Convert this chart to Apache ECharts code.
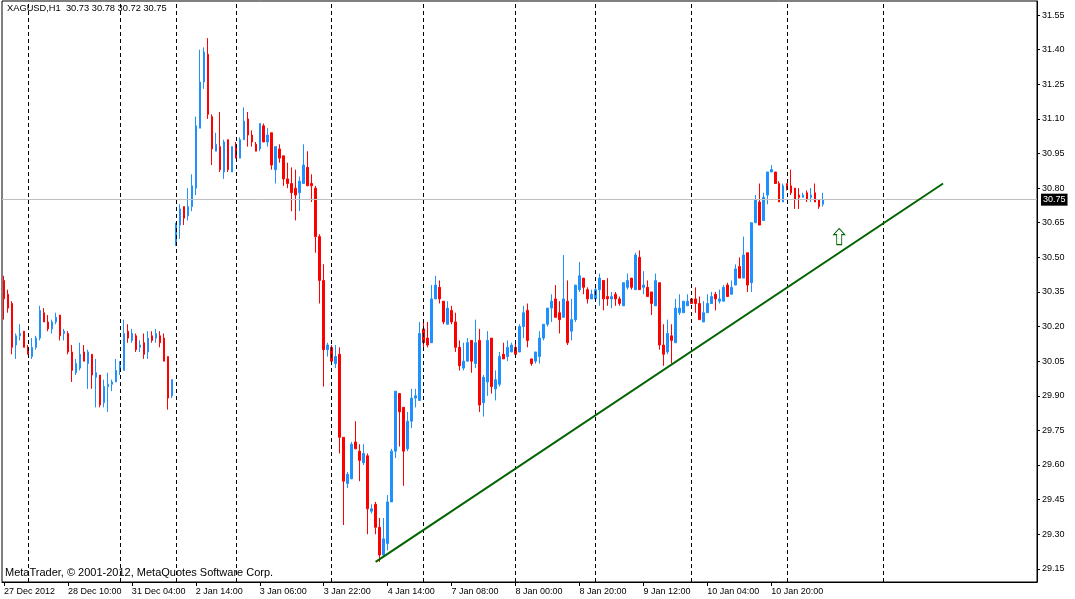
<!DOCTYPE html>
<html lang="en">
<head>
<meta charset="UTF-8">
<title>XAGUSD,H1</title>
<style>
html, body { margin: 0; padding: 0; background: #fff; }
#main { width: 1075px; height: 599px; }
</style>
</head>
<body>
<div id="main"></div>

<script src="https://cdn.jsdelivr.net/npm/echarts@6.0.0/dist/echarts.min.js"></script>
<script>
// hourly bars, each row: [open, close, low, high]
var ohlc = [
    [30.40,30.32,30.23,30.42],[30.34,30.28,30.26,30.36],[30.30,30.11,30.08,30.31],[30.12,30.16,30.06,30.17],
    [30.16,30.17,30.14,30.21],[30.18,30.11,30.11,30.18],[30.11,30.08,30.08,30.12],[30.07,30.11,30.06,30.15],
    [30.11,30.15,30.10,30.16],[30.15,30.27,30.14,30.29],[30.26,30.22,30.22,30.28],[30.22,30.19,30.18,30.25],
    [30.19,30.22,30.17,30.23],[30.22,30.24,30.21,30.26],[30.25,30.16,30.14,30.25],[30.17,30.18,30.14,30.19],
    [30.17,30.09,30.08,30.18],[30.09,30.01,29.96,30.12],[30.00,30.04,29.99,30.06],[30.02,30.08,30.01,30.13],
    [30.09,30.05,30.05,30.12],[30.04,30.09,29.93,30.10],[30.08,29.99,29.93,30.08],[29.98,30.00,29.85,30.06],
    [29.99,29.86,29.85,29.99],[29.87,29.94,29.85,29.97],[29.94,29.95,29.83,30.00],[29.95,29.96,29.92,29.97],
    [29.96,30.01,29.96,30.06],[30.01,30.03,29.99,30.05],[30.01,30.17,30.01,30.23],[30.18,30.15,30.13,30.21],
    [30.14,30.17,30.13,30.19],[30.16,30.10,30.09,30.17],[30.11,30.12,30.09,30.14],[30.13,30.08,30.06,30.17],
    [30.09,30.15,30.06,30.18],[30.16,30.14,30.13,30.18],[30.15,30.17,30.13,30.19],[30.16,30.13,30.11,30.18],
    [30.15,30.05,30.05,30.17],[30.07,29.89,29.84,30.07],[29.90,29.97,29.89,29.97],[30.56,30.64,30.55,30.65],
    [30.64,30.71,30.58,30.73],[30.72,30.67,30.64,30.72],[30.68,30.72,30.66,30.80],[30.72,30.81,30.70,30.86],
    [30.80,31.07,30.77,31.11],[31.06,31.26,31.06,31.40],[31.26,31.39,31.23,31.41],[31.38,31.12,31.10,31.45],
    [31.11,30.97,30.90,31.12],[30.96,30.99,30.96,31.04],[30.98,30.88,30.87,31.13],[30.87,31.00,30.84,31.01],
    [31.01,30.88,30.87,31.01],[30.87,30.98,30.87,30.98],[30.99,30.93,30.93,31.00],[30.93,31.01,30.93,31.02],
    [31.01,31.09,31.01,31.15],[31.10,31.03,30.98,31.13],[31.03,31.00,30.98,31.05],[30.99,30.96,30.96,31.00],
    [30.97,31.08,30.96,31.08],[31.07,31.00,31.00,31.08],[31.00,31.03,30.98,31.06],[31.04,30.90,30.88,31.04],
    [30.88,30.98,30.82,30.98],[30.97,30.93,30.91,30.99],[30.94,30.84,30.81,30.94],[30.84,30.82,30.80,30.91],
    [30.82,30.78,30.70,30.89],[30.80,30.77,30.66,30.88],[30.78,30.83,30.70,30.85],[30.82,30.90,30.82,30.99],
    [30.89,30.81,30.81,30.96],[30.82,30.81,30.74,30.86],[30.80,30.59,30.52,30.81],[30.59,30.40,30.30,30.60],
    [30.40,30.10,29.94,30.47],[30.10,30.12,30.07,30.13],[30.11,30.05,30.05,30.12],[30.04,30.07,30.02,30.12],
    [30.08,29.72,29.65,30.11],[29.72,29.53,29.34,29.72],[29.52,29.56,29.50,29.57],[29.54,29.69,29.54,29.70],
    [29.70,29.67,29.67,29.79],[29.66,29.62,29.53,29.69],[29.61,29.65,29.60,29.69],[29.64,29.41,29.30,29.65],
    [29.40,29.41,29.39,29.43],[29.43,29.33,29.30,29.44],[29.33,29.21,29.18,29.37],[29.21,29.28,29.20,29.37],
    [29.26,29.44,29.23,29.47],[29.44,29.66,29.44,29.67],[29.66,29.92,29.63,29.92],[29.91,29.83,29.68,29.91],
    [29.85,29.66,29.51,29.85],[29.67,29.79,29.66,29.83],[29.79,29.89,29.76,29.93],[29.89,29.90,29.85,29.93],
    [29.88,30.17,29.88,30.22],[30.19,30.13,30.10,30.22],[30.15,30.12,30.11,30.22],[30.13,30.32,30.13,30.38],
    [30.32,30.38,30.32,30.42],[30.37,30.32,30.30,30.40],[30.31,30.22,30.21,30.31],[30.21,30.28,30.21,30.31],
    [30.27,30.22,30.21,30.29],[30.22,30.11,30.09,30.26],[30.11,30.03,30.01,30.14],[30.02,30.05,30.01,30.13],
    [30.05,30.13,30.05,30.15],[30.14,30.05,30.00,30.14],[30.04,30.13,30.02,30.23],[30.14,29.86,29.83,30.19],
    [29.87,29.98,29.81,29.99],[29.96,30.14,29.90,30.18],[30.15,29.94,29.91,30.15],[29.93,29.97,29.88,30.01],
    [29.95,30.07,29.94,30.09],[30.08,30.06,30.06,30.13],[30.07,30.11,30.05,30.14],[30.09,30.12,30.09,30.13],
    [30.11,30.08,30.08,30.13],[30.09,30.20,30.09,30.21],[30.20,30.26,30.15,30.29],[30.27,30.14,30.11,30.30],
    [30.06,30.04,30.03,30.06],[30.05,30.09,30.04,30.09],[30.07,30.15,30.04,30.18],[30.15,30.21,30.14,30.21],
    [30.21,30.28,30.20,30.28],[30.28,30.31,30.22,30.34],[30.32,30.24,30.24,30.38],[30.26,30.23,30.17,30.31],
    [30.24,30.32,30.24,30.51],[30.31,30.13,30.12,30.40],[30.18,30.23,30.14,30.32],[30.23,30.38,30.22,30.38],
    [30.36,30.42,30.35,30.48],[30.41,30.37,30.34,30.41],[30.36,30.32,30.30,30.37],[30.32,30.34,30.32,30.36],
    [30.32,30.36,30.32,30.37],[30.36,30.41,30.29,30.43],[30.40,30.32,30.27,30.40],[30.33,30.32,30.29,30.41],
    [30.32,30.33,30.28,30.35],[30.34,30.32,30.29,30.35],[30.32,30.30,30.29,30.33],[30.29,30.39,30.29,30.39],
    [30.37,30.40,30.36,30.43],[30.41,30.37,30.36,30.41],[30.36,30.51,30.36,30.52],[30.50,30.36,30.36,30.53],
    [30.37,30.38,30.34,30.44],[30.37,30.33,30.33,30.40],[30.35,30.30,30.25,30.35],[30.29,30.40,30.29,30.43],
    [30.39,30.12,30.10,30.39],[30.12,30.08,30.03,30.21],[30.09,30.17,30.08,30.23],[30.16,30.14,30.04,30.21],
    [30.13,30.28,30.13,30.32],[30.26,30.28,30.25,30.34],[30.26,30.31,30.26,30.31],[30.29,30.31,30.29,30.34],
    [30.32,30.30,30.30,30.32],[30.32,30.30,30.26,30.37],[30.30,30.23,30.23,30.33],[30.22,30.26,30.22,30.31],
    [30.26,30.30,30.26,30.34],[30.30,30.33,30.30,30.35],[30.34,30.32,30.27,30.35],[30.31,30.32,30.30,30.36],
    [30.31,30.37,30.31,30.38],[30.38,30.33,30.33,30.39],[30.34,30.37,30.34,30.40],[30.38,30.45,30.38,30.47],
    [30.46,30.41,30.41,30.50],[30.41,30.51,30.41,30.59],[30.52,30.38,30.35,30.52],[30.39,30.65,30.35,30.65],
    [30.65,30.75,30.65,30.77],[30.74,30.64,30.64,30.82],[30.66,30.76,30.66,30.78],[30.77,30.87,30.73,30.87],
    [30.87,30.88,30.87,30.90],[30.87,30.82,30.82,30.87],[30.82,30.74,30.74,30.83],[30.74,30.81,30.74,30.82],
    [30.82,30.80,30.79,30.82],[30.81,30.78,30.77,30.88],[30.80,30.75,30.71,30.80],[30.77,30.76,30.71,30.80],
    [30.76,30.77,30.76,30.78],[30.78,30.75,30.74,30.79],[30.76,30.77,30.74,30.80],[30.78,30.74,30.74,30.82],
    [30.75,30.72,30.71,30.75],[30.73,30.75,30.72,30.78]
];

// axis labels, one every 16 bars
var timeLabels = ['27 Dec 2012', '28 Dec 10:00', '31 Dec 04:00', '2 Jan 14:00', '3 Jan 06:00',
    '3 Jan 22:00', '4 Jan 14:00', '7 Jan 08:00', '8 Jan 00:00', '8 Jan 20:00',
    '9 Jan 12:00', '10 Jan 04:00', '10 Jan 20:00'];
var priceTicks = [29.15, 29.30, 29.45, 29.60, 29.75, 29.90, 30.05, 30.20, 30.35,
    30.50, 30.65, 30.80, 30.95, 31.10, 31.25, 31.40, 31.55];

// bar index where each new day starts
var daySeparators = [6, 29, 43, 58, 82, 105, 128, 148, 172, 196, 220];
// trend line ends: [bar index, price]
var trendLine = [[93, 29.18], [235, 30.82]];
var arrowPoint = [209, 30.59];
var bidPrice = 30.75;
var slotCount = 259; // bars + empty room on the right

var cats = [];
for (var i = 0; i < slotCount; i++) {
    cats.push(i % 16 === 0 && timeLabels[i / 16] ? timeLabels[i / 16] : '');
}
function hasLabel(idx, val) { return val !== ''; }

var lines = [];
daySeparators.forEach(function (d) {
    lines.push({ xAxis: d, lineStyle: { color: '#000', width: 1, type: [4, 3] } });
});
lines.push({
    yAxis: bidPrice,
    lineStyle: { color: '#c0c0c0', width: 1, type: 'solid' },
    label: {
        show: true, position: 'end', distance: 4,
        formatter: bidPrice.toFixed(2),
        color: '#fff', backgroundColor: '#000',
        fontFamily: 'Liberation Sans', fontSize: 9, padding: [2, 2, 1, 2]
    }
});
lines.push([
    { coord: trendLine[0], lineStyle: { color: '#006400', width: 2, type: 'solid' } },
    { coord: trendLine[1] }
]);

var myChart = echarts.init(document.getElementById('main'));

var option = {
    animation: false,
    backgroundColor: '#fff',
    grid: {
        left: 2, right: 38, top: 1, bottom: 17,
        show: true, borderColor: '#000', borderWidth: 1
    },
    xAxis: {
        type: 'category',
        data: cats,
        boundaryGap: true,
        axisLine: { show: true, lineStyle: { color: '#000' } },
        axisTick: { show: true, interval: hasLabel, alignWithLabel: true, length: 4, lineStyle: { color: '#000' } },
        axisLabel: {
            interval: hasLabel, align: 'left', margin: 5,
            color: '#000', fontFamily: 'Liberation Sans', fontSize: 9
        },
        splitLine: { show: false }
    },
    yAxis: {
        type: 'value',
        position: 'right',
        min: 29.093,
        max: 31.611,
        scale: true,
        axisLine: { show: true, lineStyle: { color: '#000' } },
        axisTick: { show: true, length: 3, customValues: priceTicks, lineStyle: { color: '#000' } },
        axisLabel: {
            customValues: priceTicks, margin: 5,
            color: '#000', fontFamily: 'Liberation Sans', fontSize: 9,
            formatter: function (v) { return v.toFixed(2); }
        },
        splitLine: { show: false }
    },
    series: [{
        type: 'candlestick',
        data: ohlc,
        barWidth: 2,
        itemStyle: {
            color: '#1e90ff', color0: '#ff0000',
            borderColor: '#1e90ff', borderColor0: '#ff0000',
            borderColorDoji: '#1e90ff', borderWidth: 1
        },
        markLine: {
            silent: true,
            symbol: ['none', 'none'],
            label: { show: false },
            data: lines
        },
        markPoint: {
            silent: true,
            symbol: 'path://M5.5,0 L11,6 L8,6 L8,16 L3,16 L3,6 L0,6 Z',
            symbolSize: [11, 16],
            itemStyle: { color: '#fff', borderColor: '#006400', borderWidth: 1 },
            label: { show: false },
            data: [{ coord: arrowPoint }]
        }
    }],
    graphic: [
        {
            type: 'text', left: 7, top: 4,
            style: { text: 'XAGUSD,H1  30.73 30.78 30.72 30.75', fill: '#000', font: '9.3px "Liberation Sans"' }
        },
        {
            type: 'text', left: 5, top: 567,
            style: { text: 'MetaTrader, \u00a9 2001-2012, MetaQuotes Software Corp.', fill: '#000', font: '11px "Liberation Sans"' }
        }
    ]
};

myChart.setOption(option);
</script>
</body>
</html>
